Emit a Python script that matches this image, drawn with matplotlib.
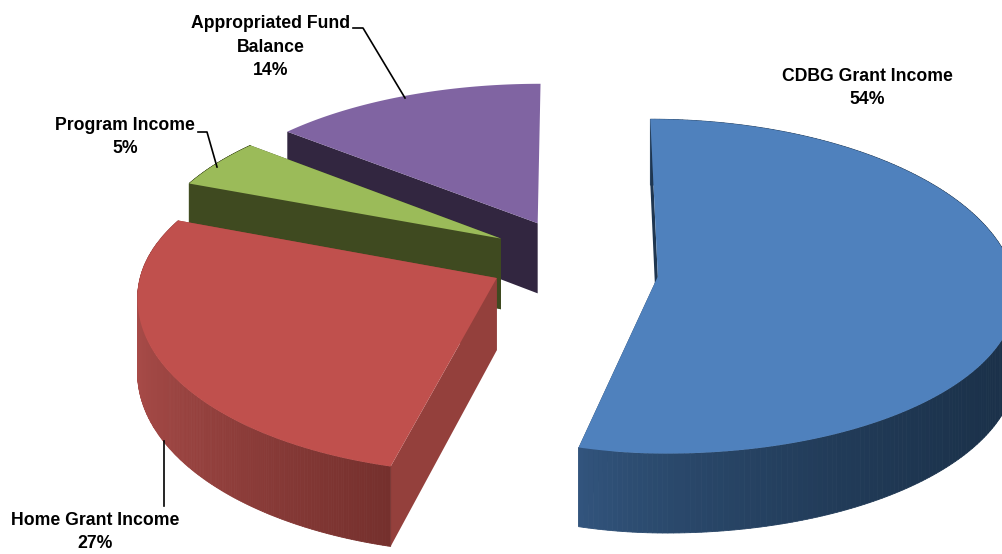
import numpy as np
import matplotlib
matplotlib.use('Agg')
from matplotlib import pyplot as plt
from matplotlib.colors import to_rgb
from matplotlib.patches import Polygon

categories = ['CDBG Grant Income', 'Home Grant Income', 'Program Income', 'Appropriated Fund\nBalance']
shares = [54, 27, 5, 14]

top_colors = ['#4f81bd', '#c0504d', '#9bbb59', '#8064a2']
wall_colors = ['#1f3650', '#94403c', '#3f4a20', '#322640']
rim_left = ['#33567f', '#a84b48', '#4a5a28', '#3c2e50']
rim_right = ['#1a3048', '#75302d', '#3f4a20', '#322640']

# view of the pie, in pixels
VX, VY = 573, 270
A, B = 355, 160
PERSP = 0.09
DEPTH = 72
EXPLODE = 0.24
# the picture's slices do not sit on one clean circle, so these are set per slice
offset_y = [0.04, 0.05, -0.2, -0.3]
back_stretch = [1.07, 1, 1, 1]
front_stretch = [1, 1.09, 1, 1]
left_stretch = [0.9, 1, 1, 1]


def project(x, y, z=0.0):
    s = 1.0 / (1.0 - PERSP * y)
    return VX + A * x * s, VY + B * y * s + z * DEPTH * s


fig = plt.figure(figsize=(10.03, 5.54), dpi=100)
ax = fig.add_axes([0, 0, 1, 1])
ax.set_xlim(0, 1003)
ax.set_ylim(554, 0)
ax.axis('off')

fractions = np.array(shares) / sum(shares)
edges = np.concatenate([[0], np.cumsum(fractions)]) * 2 * np.pi


def draw_rim(i, px, py, qx, qy, keep):
    c0, c1 = np.array(to_rgb(rim_left[i])), np.array(to_rgb(rim_right[i]))
    for j in range(len(px) - 1):
        if not keep[j]:
            continue
        f = ((px[j] - px.min()) / (px.max() - px.min())) ** 0.7
        ax.fill([px[j], px[j + 1], qx[j + 1], qx[j]], [py[j], py[j + 1], qy[j + 1], qy[j]],
                color=c0 + (c1 - c0) * f, lw=0.6)


# painter's order: back slices first
for i in [3, 2, 1, 0]:
    t0, t1 = edges[i], edges[i + 1]
    off_x, off_y = EXPLODE * np.sin((t0 + t1) / 2), offset_y[i]
    t = np.linspace(t0, t1, 240)
    rim_x, rim_y = np.sin(t), -np.cos(t)
    xs = off_x + rim_x * np.where(rim_x < 0, left_stretch[i], 1)
    ys = off_y + rim_y * np.where(rim_y < 0, back_stretch[i], front_stretch[i])

    px, py = project(xs, ys, 0)
    qx, qy = project(xs, ys, 1)
    front = rim_y >= -0.02

    # back part of the rim, then the cut walls, then the front part
    ends = [(xs[0], ys[0]), (xs[-1], ys[-1])]
    if i == 3:
        ends = ends[:1]  # the purple slice shows nothing on its right side
    else:
        draw_rim(i, px, py, qx, qy, ~front)
    for ex, ey in ends:
        corners = [project(off_x, off_y, 0), project(ex, ey, 0), project(ex, ey, 1), project(off_x, off_y, 1)]
        ax.add_patch(Polygon(corners, closed=True, fc=wall_colors[i], ec='none'))
    draw_rim(i, px, py, qx, qy, front)

    # top face
    pts = [project(off_x, off_y, 0)] + list(zip(px, py))
    ax.add_patch(Polygon(pts, closed=True, fc=top_colors[i], ec='none'))

# leader lines
ax.plot([353, 363, 405], [28, 28, 98], color='black', lw=1.2, zorder=3)
ax.plot([198, 207, 217], [132, 132, 167], color='black', lw=1.2, zorder=3)
ax.plot([164, 164], [441, 506], color='black', lw=1.2, zorder=3)

# data labels
label_pos = [(867, 88), (95, 532), (125, 137), (271, 47)]
for name, pct, (lx, ly) in zip(categories, shares, label_pos):
    ax.text(lx, ly, f'{name}\n{pct}%', ha='center', va='center', family='Liberation Sans',
            fontweight='bold', fontsize=12.7, linespacing=1.5, color='black', zorder=4)

plt.savefig('out.png', dpi=100)
plt.close()
